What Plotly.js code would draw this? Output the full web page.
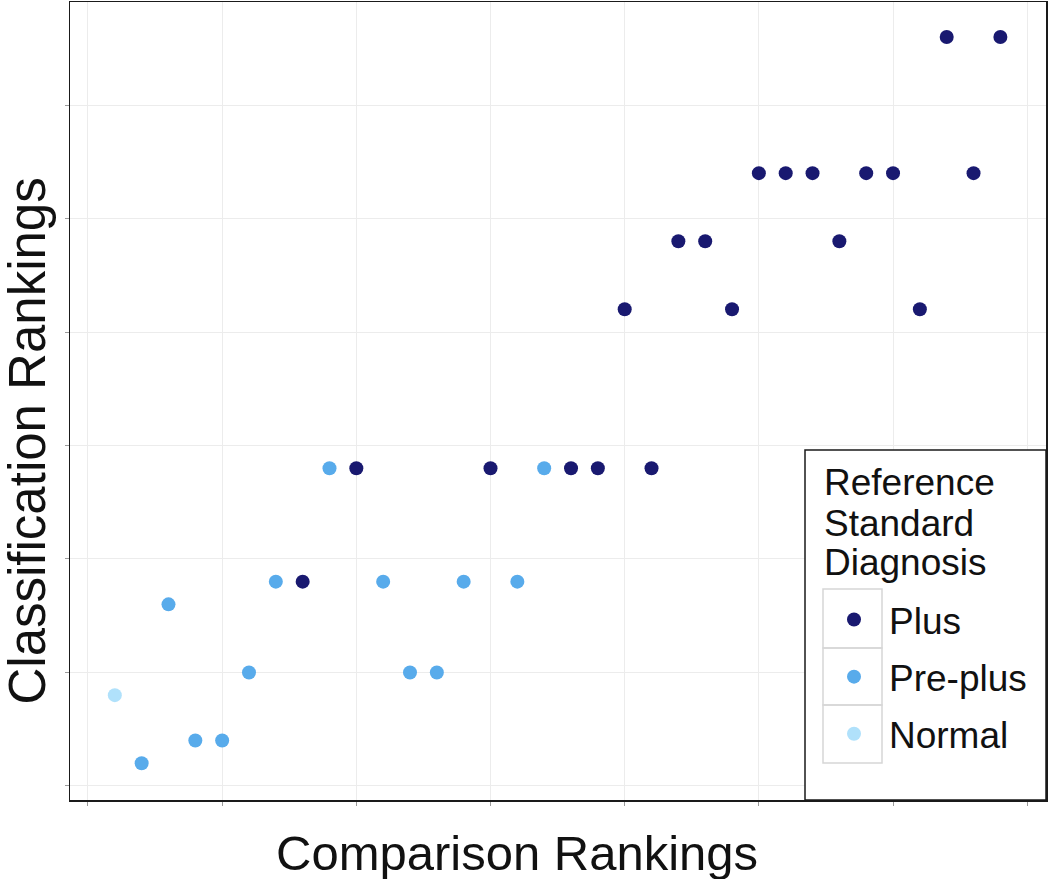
<!DOCTYPE html>
<html>
<head>
<meta charset="utf-8">
<script src="https://cdn.plot.ly/plotly-3.0.1.min.js"></script>
<style>html,body{margin:0;padding:0;background:#fff;}#chart{width:1050px;height:879px;}</style>
</head>
<body>
<div id="chart"></div>
<script>
// Comparison ranking (x) and classification ranking (y) per image, by reference standard diagnosis
const plusX = [8, 10, 15, 18, 19, 20, 21, 22, 23, 24, 25, 26, 27, 28, 29, 30, 31, 32, 33, 34];
const plusY = [9, 14, 14, 14, 14, 21, 14, 24, 24, 21, 27, 27, 27, 24, 27, 27, 21, 33, 27, 33];
const prePlusX = [2, 3, 4, 5, 6, 7, 9, 11, 12, 13, 14, 16, 17];
const prePlusY = [1, 8, 2, 2, 5, 9, 14, 9, 5, 5, 9, 9, 14];
const normalX = [1];
const normalY = [4];
const seriesNames = ["Plus", "Pre-plus", "Normal"];
const seriesColors = ["#191970", "#58abeb", "#b0e1fb"];
const legendTitleLines = ["Reference", "Standard", "Diagnosis"];
const xTitle = "Comparison Rankings";
const yTitle = "Classification Rankings";

const FONT = "Liberation Sans, Arial, sans-serif";
const W = 1050, H = 879, ML = 70, MR = 4, MT = 2, MB = 79;
const PW = W - ML - MR, PH = H - MT - MB;
const px = v => (v - ML) / PW;          // pixel x -> paper x
const py = v => (H - MB - v) / PH;      // pixel y -> paper y

const xs = [plusX, prePlusX, normalX];
const ys = [plusY, prePlusY, normalY];
const data = seriesNames.map((n, i) => ({
  type: "scatter", mode: "markers", name: n,
  x: xs[i], y: ys[i], legendgroup: n,
  marker: {size: 14, color: seriesColors[i]},
  hoverinfo: "x+y+name"
}));

const axisCommon = {
  showticklabels: false, ticks: "outside", ticklen: 4, tickcolor: "#9a9a9a",
  showgrid: true, gridcolor: "#ececec", gridwidth: 1, zeroline: false,
  showline: true, linecolor: "#1a1a1a", linewidth: 1.5, mirror: true,
  dtick: 5, tick0: 0
};

// legend frame and key boxes (decoration only)
const shapes = [
  {type: "rect", xref: "paper", yref: "paper", layer: "above",
   x0: px(805), x1: 1, y0: 0, y1: py(450),
   line: {color: "#1a1a1a", width: 1.5}, fillcolor: "#fff"}
];
const keyRows = [589, 648, 705, 763];
for (let i = 0; i < 3; i++) {
  shapes.push({type: "rect", xref: "paper", yref: "paper", layer: "above",
    x0: px(823), x1: px(882), y0: py(keyRows[i + 1]), y1: py(keyRows[i]),
    line: {color: "#d6d6d6", width: 1.5}, fillcolor: "rgba(0,0,0,0)"});
}
const titleY = [483, 523, 562];
const annotations = legendTitleLines.map((t, i) => ({
  text: t, xref: "paper", yref: "paper", x: px(822), y: py(titleY[i]),
  xanchor: "left", yanchor: "middle", showarrow: false,
  font: {family: FONT, size: 37, color: "#111"}
}));
annotations.push(
  {text: xTitle, xref: "paper", yref: "paper", x: px(517), y: py(853),
   xanchor: "center", yanchor: "middle", showarrow: false,
   font: {family: FONT, size: 49, color: "#111"}},
  {text: yTitle, xref: "paper", yref: "paper", x: px(-4), y: py(441),
   xanchor: "left", yanchor: "middle", showarrow: false, textangle: -90,
   font: {family: FONT, size: 51, color: "#111"}}
);

const layout = {
  width: W, height: H,
  margin: {l: ML, r: MR, t: MT, b: MB},
  paper_bgcolor: "#fff", plot_bgcolor: "#fff",
  font: {family: FONT, color: "#111"},
  xaxis: Object.assign({}, axisCommon, {range: [-0.67, 35.7]}),
  yaxis: Object.assign({}, axisCommon, {range: [-0.62, 34.54]}),
  showlegend: true,
  legend: {
    x: px(819), xanchor: "left", y: py(589), yanchor: "top",
    bgcolor: "rgba(0,0,0,0)", borderwidth: 0,
    font: {family: FONT, size: 37, color: "#111"},
    tracegroupgap: 6, itemsizing: "trace", itemwidth: 60
  },
  shapes: shapes,
  annotations: annotations
};

Plotly.newPlot("chart", data, layout, {displayModeBar: false, staticPlot: true});
</script>
</body>
</html>
